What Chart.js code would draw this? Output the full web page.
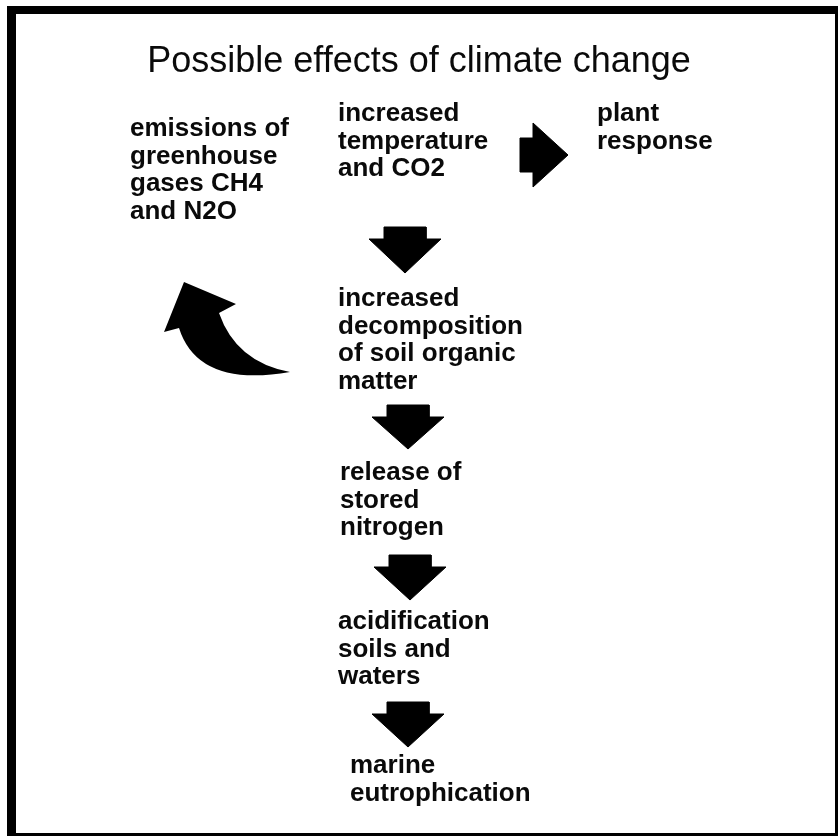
<!DOCTYPE html>
<html>
<head>
<meta charset="utf-8">
<script src="https://cdn.jsdelivr.net/npm/chart.js@4/dist/chart.umd.min.js"></script>
<style>
  html, body { margin: 0; padding: 0; background: #fff; }
  #diagram { display: block; }
</style>
</head>
<body>
<canvas id="diagram" width="838" height="838"></canvas>
<script>
// diagram content, in page units (0..838 on both axes, y downwards)
const titleText = 'Possible effects of climate change';

const boxLines = [
    ['emissions of', 'greenhouse', 'gases CH4', 'and N2O'],
    ['increased', 'temperature', 'and CO2'],
    ['plant', 'response'],
    ['increased', 'decomposition', 'of soil organic', 'matter'],
    ['release of', 'stored', 'nitrogen'],
    ['acidification', 'soils and', 'waters'],
    ['marine', 'eutrophication']
];
const boxX = [130, 338, 597, 338, 340, 338, 350];
const boxY = [129, 114, 114, 299, 473, 622, 766];

// block arrows pointing down the chain
const downArrowX = [405, 408, 410, 408];
const downArrowTop = [227, 405, 555, 702];
const downArrowTip = [273, 449, 600, 747];

// arrow towards "plant response"
const rightArrowLeft = [520];
const rightArrowTip = [568];
const rightArrowY = [155];

// curved arrow back to the emissions (tip, head corners, tail, curve controls)
const curveTip = [184, 282];
const curveHeadLeft = [164, 332];
const curveOuterStart = [179, 328];
const curveOuterCtrl = [198, 388];
const curveTail = [290, 372];
const curveInnerCtrl = [236, 362];
const curveNotch = [219, 313];
const curveHeadRight = [236, 304];

function downArrowPoints(i) {
    const cx = downArrowX[i], top = downArrowTop[i], tip = downArrowTip[i];
    const neck = top + 12;
    return [
        { x: cx - 21, y: top }, { x: cx + 21, y: top }, { x: cx + 21, y: neck },
        { x: cx + 36, y: neck }, { x: cx, y: tip }, { x: cx - 36, y: neck },
        { x: cx - 21, y: neck }, { x: cx - 21, y: top }
    ];
}

function rightArrowPoints(i) {
    const l = rightArrowLeft[i], tip = rightArrowTip[i], cy = rightArrowY[i];
    const neck = l + 13;
    return [
        { x: l, y: cy - 17 }, { x: neck, y: cy - 17 }, { x: neck, y: cy - 32 },
        { x: tip, y: cy }, { x: neck, y: cy + 32 }, { x: neck, y: cy + 17 },
        { x: l, y: cy + 17 }, { x: l, y: cy - 17 }
    ];
}

const shapeStyle = {
    showLine: true,
    fill: 'shape',
    backgroundColor: '#000',
    borderColor: '#000',
    borderWidth: 1,
    pointRadius: 0,
    tension: 0
};

const datasets = [];
downArrowX.forEach((_, i) => datasets.push({ ...shapeStyle, data: downArrowPoints(i) }));
rightArrowLeft.forEach((_, i) => datasets.push({ ...shapeStyle, data: rightArrowPoints(i) }));

// frame, title, texts and the curved arrow
const diagramPlugin = {
    id: 'diagramText',
    afterDatasetsDraw(chart) {
        const ctx = chart.ctx;
        const sx = v => chart.scales.x.getPixelForValue(v);
        const sy = v => chart.scales.y.getPixelForValue(v);
        const pt = p => [sx(p[0]), sy(p[1])];

        ctx.save();

        // frame: heavy top/left, thin right/bottom
        ctx.fillStyle = '#000';
        ctx.fillRect(sx(7), sy(6), sx(837) - sx(7), sy(14) - sy(6));
        ctx.fillRect(sx(7), sy(6), sx(16) - sx(7), sy(836) - sy(6));
        ctx.fillRect(sx(7), sy(833), sx(837) - sx(7), 3);
        ctx.fillRect(sx(835), sy(6), 3, sy(836) - sy(6));

        // title
        ctx.fillStyle = '#0a0a0a';
        ctx.textAlign = 'center';
        ctx.textBaseline = 'middle';
        ctx.font = '36px "Liberation Sans", Arial, sans-serif';
        ctx.fillText(titleText, sx(419), sy(62));

        // text blocks
        ctx.textAlign = 'left';
        ctx.font = 'bold 26px "Liberation Sans", Arial, sans-serif';
        boxLines.forEach((lines, i) => {
            lines.forEach((line, j) => {
                ctx.fillText(line, sx(boxX[i]), sy(boxY[i] + j * 27.5));
            });
        });

        // curved arrow
        ctx.fillStyle = '#000';
        ctx.beginPath();
        ctx.moveTo(...pt(curveTip));
        ctx.lineTo(...pt(curveHeadLeft));
        ctx.lineTo(...pt(curveOuterStart));
        ctx.quadraticCurveTo(...pt(curveOuterCtrl), ...pt(curveTail));
        ctx.quadraticCurveTo(...pt(curveInnerCtrl), ...pt(curveNotch));
        ctx.lineTo(...pt(curveHeadRight));
        ctx.closePath();
        ctx.fill();

        ctx.restore();
    }
};

new Chart(document.getElementById('diagram').getContext('2d'), {
    type: 'scatter',
    data: { datasets: datasets },
    options: {
        responsive: false,
        animation: false,
        layout: { padding: 0 },
        scales: {
            x: { type: 'linear', min: 0, max: 838, display: false },
            y: { type: 'linear', min: 0, max: 838, reverse: true, display: false }
        },
        plugins: {
            legend: { display: false },
            tooltip: { enabled: false }
        }
    },
    plugins: [diagramPlugin]
});
</script>
</body>
</html>
